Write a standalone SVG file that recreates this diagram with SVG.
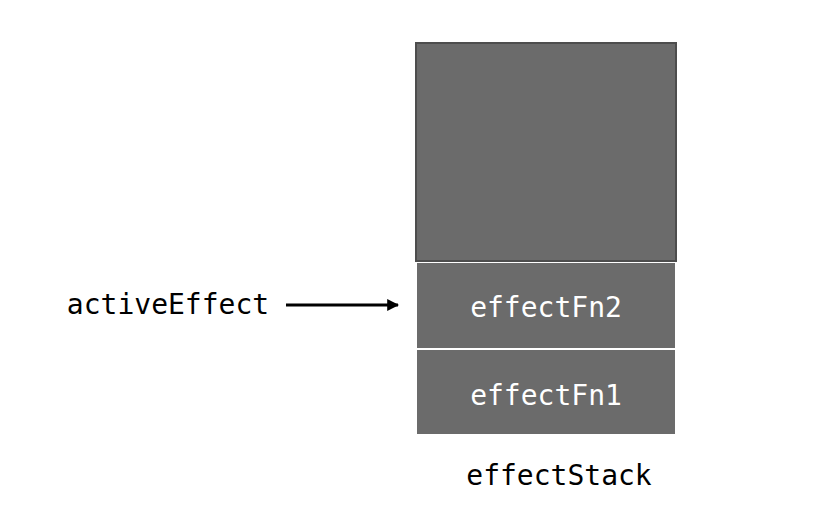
<svg xmlns="http://www.w3.org/2000/svg" width="816" height="518" viewBox="0 0 816 518">
<style>
.box{fill:#6b6b6b}
.t{font-family:"DejaVu Sans Mono","Liberation Mono",monospace;font-size:28px}
.w{fill:#ffffff}
.k{fill:#000000}
</style>
<defs>
<marker id="ah" viewBox="0 0 10 10" refX="9" refY="5" markerWidth="4" markerHeight="4" orient="auto" markerUnits="strokeWidth">
<path d="M0,0 L10,5 L0,10 z" fill="#000"/>
</marker>
</defs>
<rect width="816" height="518" fill="#fff"/>
<g id="stack-top"><rect class="box" x="416" y="43" width="260" height="218" stroke="#4d4d4d" stroke-width="2"/></g>
<g id="effectFn2"><rect class="box" x="417" y="263" width="258" height="85"/><text class="t w" x="546" y="317" text-anchor="middle">effectFn2</text></g>
<g id="effectFn1"><rect class="box" x="417" y="350" width="258" height="84"/><text class="t w" x="546" y="405" text-anchor="middle">effectFn1</text></g>
<g id="effectStack-label"><text class="t k" x="559" y="485" text-anchor="middle">effectStack</text></g>
<g id="activeEffect"><text class="t k" x="168" y="314" text-anchor="middle">activeEffect</text></g>
<g id="connectors"><line x1="286" y1="305" x2="398" y2="305" stroke="#000" stroke-width="3" marker-end="url(#ah)"/></g>
</svg>
